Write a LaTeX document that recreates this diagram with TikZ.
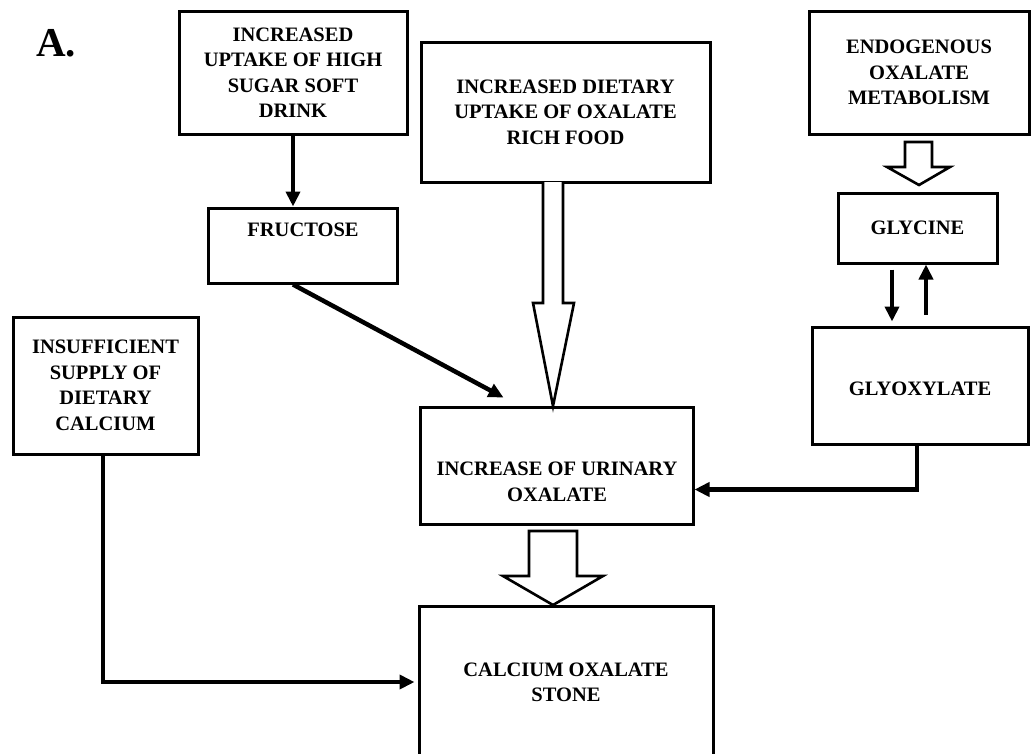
\documentclass[tikz,border=0pt]{standalone}
\usepackage{fontspec}
\setmainfont{Liberation Serif}
\usetikzlibrary{arrows.meta,calc}

\tikzset{
  txt/.style={font=\bfseries\fontsize{20.5}{25.5}\selectfont, align=center, inner sep=0pt},
  box/.style={txt, draw, line width=3pt, rectangle},
  conn/.style={line width=4.5pt, -{Triangle[length=15pt,width=14pt]}, line join=miter},
  hollow/.style={draw, fill=white, line width=2.6pt, line join=miter},
}

\begin{document}
\begin{tikzpicture}[x=1pt, y=-1pt]
\clip (0,0) rectangle (1032,753);
\fill[white] (0,0) rectangle (1032,753);

% panel letter
\node[font=\bfseries\fontsize{41}{41}\selectfont, anchor=base west, inner sep=0pt] (panel) at (36,56) {A.};

% boxes
\node[box, minimum width=228pt, minimum height=123pt] (drink) at (293,72.5)
  {INCREASED\\UPTAKE OF HIGH\\SUGAR SOFT\\DRINK};
\node[box, minimum width=289pt, minimum height=140pt] (diet) at (565.5,112)
  {INCREASED DIETARY\\UPTAKE OF OXALATE\\RICH FOOD};
\node[box, minimum width=220pt, minimum height=123pt] (endo) at (919,72.5)
  {ENDOGENOUS\\OXALATE\\METABOLISM};
\node[box, minimum width=189pt, minimum height=75pt] (fru) at (302.5,245.5) {};
\node[txt] (frutxt) at (303,230) {FRUCTOSE};
\node[box, minimum width=159pt, minimum height=70pt] (gly) at (917.5,228) {GLYCINE};
\node[box, minimum width=185pt, minimum height=137pt] (cal) at (105.5,385.5)
  {INSUFFICIENT\\SUPPLY OF\\DIETARY\\CALCIUM};
\node[box, minimum width=216pt, minimum height=117pt] (glx) at (920,385.5) {};
\node[txt] (glxtxt) at (920,389) {GLYOXYLATE};
\node[box, minimum width=273pt, minimum height=117pt] (uo) at (556.5,465.5) {};
\node[txt] (uotxt) at (557,482) {INCREASE OF URINARY\\OXALATE};
\node[box, minimum width=294pt, minimum height=164pt] (stone) at (566,688) {};
\node[txt] (stonetxt) at (566,682.5) {CALCIUM OXALATE\\STONE};

% solid connectors
\draw[conn] (drink.south) -- (drink.south |- fru.north);
\coordinate (fruin) at ($(uo.north west)+(85,-8)$);
\draw[conn] ($(fru.south)+(-9.5,0)$) -- (fruin);
\draw[conn, shorten <=5pt, shorten >=4pt] (gly.south -| 892,0) -- (glx.north -| 892,0);
\draw[conn, shorten <=11pt] (glx.north -| 926,0) -- (gly.south -| 926,0);
\draw[conn] (glx.south -| 917,0) |- ($(uo.east)+(0,24)$);
\draw[conn, shorten >=3pt] (cal.south -| 103,0) |- (stone.west |- 0,682);

% block arrows
\draw[hollow] (543,182) -- (543,303) -- (533,303) -- (553,406) -- (574,303) -- (563,303) -- (563,182);
\draw[hollow] (905,142) -- (905,167) -- (887,167) -- (919,185) -- (950,167) -- (932,167) -- (932,142) -- cycle;
\draw[hollow] (529,531) -- (529,576) -- (503,576) -- (553,605) -- (603,576) -- (577,576) -- (577,531) -- cycle;
\end{tikzpicture}
\end{document}
